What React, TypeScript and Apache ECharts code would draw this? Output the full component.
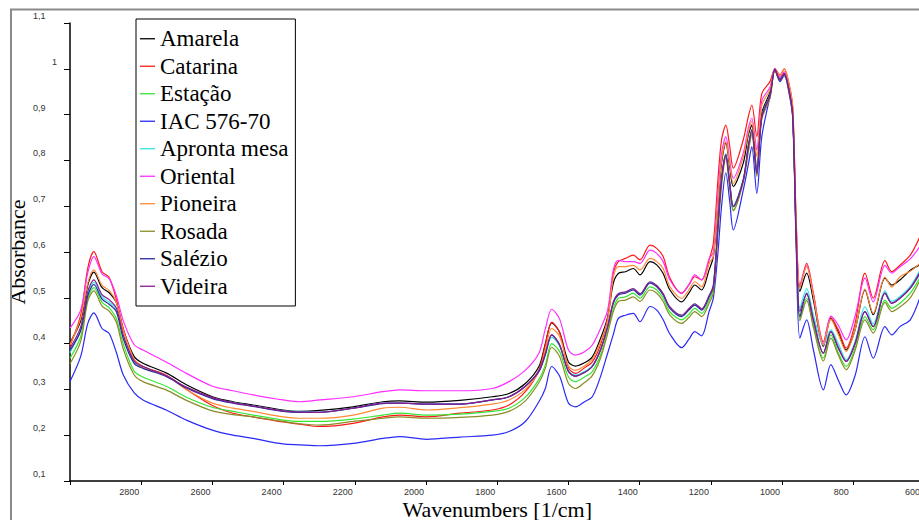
import React, { useEffect, useRef } from 'react';
import * as echarts from 'echarts';

const wavenumbers = [
  3000, 2970, 2950, 2933, 2910, 2890, 2870, 2850, 2820, 2795,
  2730, 2673, 2600, 2542, 2486, 2402, 2355, 2299, 2205, 2121,
  2074, 1999, 1905, 1814, 1767, 1721, 1683, 1665, 1647, 1625,
  1600, 1580, 1555, 1533, 1510, 1490, 1474, 1460, 1440, 1418,
  1399, 1371, 1352, 1334, 1315, 1282, 1262, 1245, 1226, 1205,
  1193, 1180, 1170, 1158, 1147, 1137, 1109, 1095, 1085, 1071,
  1057, 1034, 1020, 1006, 994, 980, 970, 960, 950, 931,
  912, 884, 863, 842, 820, 795, 767, 744, 711, 692,
  669, 640, 613,
];

const amarela = [
  .402, .450, .528, .556, .522, .511, .490, .430, .372, .357,
  .336, .310, .284, .273, .266, .255, .252, .254, .262, .273,
  .275, .272, .276, .284, .291, .313, .350, .400, .445, .425,
  .360, .351, .358, .371, .411, .458, .532, .553, .557, .564,
  .550, .579, .572, .553, .517, .491, .510, .528, .517, .561,
  .590, .700, .795, .838, .785, .743, .794, .855, .877, .779,
  .903, .949, 1.0, .978, .990, .955, .900, .640, .514, .554,
  .495, .394, .455, .425, .386, .430, .517, .463, .543, .528,
  .539, .560, .572,
];
const catarina = [
  .395, .462, .565, .601, .557, .544, .497, .432, .366, .350,
  .331, .300, .265, .248, .240, .229, .224, .219, .226, .240,
  .244, .240, .248, .255, .266, .295, .342, .397, .447, .425,
  .347, .335, .347, .360, .397, .455, .553, .579, .586, .593,
  .583, .615, .608, .590, .543, .510, .528, .546, .539, .583,
  .620, .760, .845, .877, .830, .783, .845, .895, .921, .852,
  .946, .972, 1.0, .987, 1.0, .965, .915, .660, .524, .575,
  .510, .404, .457, .430, .390, .444, .554, .499, .581, .557,
  .571, .593, .633,
];
const estacao = [
  .368, .415, .499, .522, .490, .478, .455, .398, .340, .327,
  .307, .283, .261, .252, .244, .233, .230, .230, .235, .244,
  .248, .244, .246, .252, .259, .283, .322, .353, .400, .383,
  .327, .317, .327, .339, .375, .426, .477, .499, .502, .510,
  .499, .524, .517, .499, .469, .452, .464, .477, .466, .495,
  .520, .650, .750, .808, .745, .692, .755, .820, .860, .769,
  .892, .938, .998, .975, .988, .950, .895, .620, .455, .499,
  .440, .368, .419, .380, .350, .390, .459, .430, .495, .477,
  .488, .510, .544,
];
const iac57670 = [
  .317, .372, .444, .467, .433, .422, .381, .331, .293, .277,
  .255, .233, .211, .200, .193, .181, .179, .177, .182, .193,
  .197, .191, .196, .200, .208, .230, .273, .302, .350, .329,
  .270, .262, .273, .284, .328, .379, .420, .455, .462, .466,
  .448, .481, .473, .452, .421, .391, .409, .426, .417, .470,
  .500, .600, .700, .773, .710, .648, .735, .790, .830, .728,
  .852, .940, .998, .972, .985, .945, .890, .600, .412, .452,
  .386, .299, .354, .320, .288, .330, .415, .368, .437, .419,
  .437, .452, .500,
];
const aprontaMesa = [
  .380, .432, .508, .534, .502, .491, .475, .415, .360, .348,
  .329, .304, .281, .271, .264, .253, .252, .250, .259, .270,
  .270, .268, .268, .277, .284, .307, .339, .374, .414, .395,
  .341, .331, .339, .352, .388, .439, .490, .508, .512, .519,
  .508, .534, .526, .508, .479, .461, .475, .486, .475, .504,
  .530, .670, .762, .815, .752, .702, .760, .832, .867, .774,
  .898, .943, .999, .976, .986, .952, .900, .630, .477, .520,
  .462, .397, .430, .400, .365, .405, .480, .443, .515, .492,
  .503, .525, .560,
];
const oriental = [
  .434, .473, .555, .590, .552, .542, .505, .449, .398, .386,
  .360, .335, .307, .297, .288, .277, .273, .277, .284, .295,
  .299, .297, .297, .302, .317, .342, .379, .432, .475, .454,
  .386, .375, .382, .397, .433, .473, .561, .582, .579, .579,
  .575, .604, .597, .579, .539, .510, .528, .550, .539, .585,
  .600, .730, .815, .852, .800, .761, .816, .870, .892, .823,
  .930, .960, 1.0, .982, .994, .960, .905, .650, .528, .570,
  .505, .400, .460, .440, .408, .460, .543, .491, .571, .554,
  .568, .585, .612,
];
const pioneira = [
  .398, .455, .532, .561, .527, .516, .490, .428, .366, .348,
  .331, .300, .270, .259, .252, .240, .237, .237, .244, .259,
  .261, .255, .260, .268, .277, .300, .339, .386, .433, .416,
  .351, .342, .351, .366, .404, .451, .545, .568, .568, .571,
  .561, .586, .579, .564, .524, .499, .517, .535, .524, .575,
  .590, .710, .800, .841, .790, .750, .808, .860, .885, .808,
  .920, .955, .999, .985, 1.0, .965, .915, .660, .521, .568,
  .505, .397, .453, .420, .383, .430, .519, .466, .545, .524,
  .546, .558, .575,
];
const rosada = [
  .356, .405, .493, .515, .482, .471, .447, .387, .332, .317,
  .299, .276, .253, .245, .240, .230, .225, .222, .230, .237,
  .240, .237, .239, .244, .252, .275, .315, .346, .392, .372,
  .313, .302, .315, .330, .368, .422, .470, .492, .495, .502,
  .492, .517, .510, .492, .462, .444, .457, .470, .459, .488,
  .512, .645, .745, .805, .740, .690, .752, .818, .857, .765,
  .890, .936, .997, .974, .987, .948, .893, .615, .450, .494,
  .435, .362, .412, .375, .343, .385, .452, .423, .490, .470,
  .480, .500, .538,
];
const salezio = [
  .385, .428, .505, .529, .497, .486, .470, .410, .357, .346,
  .328, .303, .280, .270, .263, .252, .250, .250, .259, .269,
  .270, .268, .268, .277, .284, .307, .339, .376, .419, .397,
  .339, .329, .337, .350, .386, .437, .488, .506, .510, .517,
  .506, .532, .524, .506, .477, .459, .473, .484, .473, .502,
  .525, .660, .760, .812, .750, .699, .757, .830, .866, .772,
  .896, .942, .998, .975, .988, .950, .895, .620, .459, .510,
  .452, .379, .426, .390, .361, .400, .470, .437, .510, .488,
  .499, .521, .553,
];
const videira = [
  .390, .436, .514, .539, .507, .496, .478, .418, .362, .350,
  .330, .305, .282, .271, .264, .253, .251, .250, .259, .270,
  .270, .268, .268, .277, .284, .307, .341, .378, .419, .398,
  .339, .329, .337, .350, .386, .437, .491, .509, .513, .520,
  .509, .535, .527, .509, .480, .462, .476, .487, .476, .505,
  .526, .660, .760, .812, .750, .699, .757, .830, .866, .772,
  .896, .942, .999, .976, .990, .951, .897, .625, .470, .508,
  .450, .379, .426, .392, .361, .400, .470, .437, .510, .488,
  .499, .521, .556,
];

const seriesNames = [
  'Amarela', 'Catarina', 'Estação', 'IAC 576-70', 'Apronta mesa',
  'Oriental', 'Pioneira', 'Rosada', 'Salézio', 'Videira',
];
const seriesValues = [
  amarela, catarina, estacao, iac57670, aprontaMesa,
  oriental, pioneira, rosada, salezio, videira,
];
const seriesColors = [
  '#000000', '#ff1a1a', '#33e633', '#2a2af5', '#33e6e6',
  '#ff2eff', '#ff8a33', '#8c8c26', '#28289e', '#8c1a8c',
];

const xTitle = 'Wavenumbers [1/cm]';
const yTitle = 'Absorbance';

const serif = 'Liberation Serif, Times New Roman, serif';
const sans = 'Liberation Sans, Arial, sans-serif';

export default function App() {
  const ref = useRef<HTMLDivElement>(null);

  useEffect(() => {
    if (!ref.current) return;
    const chart = echarts.init(ref.current, undefined, { renderer: 'svg' });
    chart.setOption({
      animation: false,
      backgroundColor: '#ffffff',
      textStyle: { fontFamily: serif },
      grid: { left: 70, right: -5.5, top: 23, bottom: 39, containLabel: false, outerBoundsMode: 'none' },
      legend: {
        orient: 'vertical',
        left: 136,
        top: 19,
        icon: 'rect',
        itemWidth: 15,
        itemHeight: 1.3,
        itemGap: 0,
        padding: [6, 7, 6, 4],
        borderColor: '#000',
        borderWidth: 1,
        backgroundColor: '#fff',
        selectedMode: false,
        textStyle: { fontFamily: serif, fontSize: 23, color: '#000', lineHeight: 27.5 },
        data: seriesNames,
      },
      xAxis: {
        type: 'value',
        min: 600,
        max: 3000,
        interval: 200,
        inverse: true,
        name: xTitle,
        nameLocation: 'middle',
        nameGap: 28,
        nameMoveOverlap: false,
        nameTextStyle: { fontFamily: serif, fontSize: 22, lineHeight: 20, color: '#000', verticalAlign: 'middle' },
        axisLine: { lineStyle: { color: '#000', width: 1.5 } },
        axisTick: { length: 4, lineStyle: { color: '#000', width: 1 } },
        splitLine: { show: false },
        axisLabel: {
          margin: 6,
          fontSize: 9,
          lineHeight: 9,
          fontFamily: sans,
          color: '#333',
          padding: [0, 24, 0, 0],
          hideOverlap: false,
          formatter: (v: number) => (v === 3000 ? '' : String(v)),
        },
      },
      yAxis: {
        type: 'value',
        min: 0.1,
        max: 1.1,
        interval: 0.1,
        name: yTitle,
        nameLocation: 'middle',
        nameRotate: 90,
        nameGap: 53,
        nameMoveOverlap: false,
        nameTextStyle: { fontFamily: serif, fontSize: 22, color: '#000', verticalAlign: 'middle', align: 'center' },
        axisLine: { show: true, lineStyle: { color: '#000', width: 1.5 } },
        axisTick: { show: true, length: 6, lineStyle: { color: '#000', width: 1 } },
        splitLine: { show: false },
        axisLabel: {
          align: 'left',
          margin: 37,
          fontSize: 9,
          fontFamily: sans,
          color: '#333',
          padding: [0, 0, 14, 0],
          formatter: (v: number) => {
            const r = Math.round(v * 10) / 10;
            return r === 1 ? '{one|1}' : r.toFixed(1).replace('.', ',');
          },
          rich: { one: { padding: [0, 0, 0, 19], fontSize: 9, fontFamily: sans, color: '#333' } },
        },
      },
      graphic: [
        { type: 'line', z: 100, shape: { x1: 10, y1: 9.5, x2: 919, y2: 9.5 }, style: { stroke: '#8a8a8a', lineWidth: 2 } },
        { type: 'line', z: 100, shape: { x1: 11, y1: 9.5, x2: 11, y2: 520 }, style: { stroke: '#8a8a8a', lineWidth: 2 } },
      ],
      series: seriesNames.map((name, i) => ({
        name,
        type: 'line',
        symbol: 'none',
        smooth: 0.3,
        color: seriesColors[i],
        lineStyle: { color: seriesColors[i], width: 1.2 },
        data: wavenumbers.map((w, j) => [w, seriesValues[i][j]]),
      })),
    });
    return () => chart.dispose();
  }, []);

  return (
    <div
      ref={ref}
      style={{ position: 'fixed', left: 0, top: 0, width: 919, height: 520, background: '#fff' }}
    />
  );
}
